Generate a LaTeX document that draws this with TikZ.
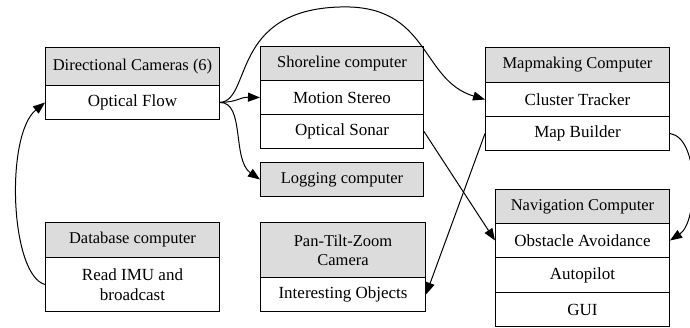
\documentclass[tikz,border=0pt]{standalone}
\usepackage{fontspec}
\setmainfont{Liberation Serif}
\usetikzlibrary{arrows.meta}
\definecolor{hdrgray}{HTML}{DCDCDC}
\tikzset{
  hdr/.style={draw, fill=hdrgray, line width=1pt, anchor=north west, inner sep=0pt, align=center, font=\fontsize{16.5}{19}\selectfont},
  rowbox/.style={draw, fill=white, line width=1pt, anchor=north west, inner sep=0pt, align=center, font=\fontsize{17}{20}\selectfont},
  arr/.style={-{Triangle[length=12pt,width=9pt]}, line width=1pt}
}
\begin{document}
\begin{tikzpicture}[x=1pt,y=-1pt]
\useasboundingbox (0,0) rectangle (690,328);
% Directional cameras
\node[hdr, minimum width=174pt, minimum height=38pt] (dc) at (45,47) {Directional Cameras (6)};
\node[rowbox, minimum width=174pt, minimum height=34pt] (of) at (45,85) {Optical Flow};
% Shoreline
\node[hdr, minimum width=163pt, minimum height=34pt] (sc) at (260,46) {Shoreline computer};
\node[rowbox, minimum width=163pt, minimum height=34pt] (ms) at (260,80) {Motion Stereo};
\node[rowbox, minimum width=163pt, minimum height=34pt] (os) at (260,114) {Optical Sonar};
% Logging
\node[hdr, minimum width=163pt, minimum height=34pt] (lc) at (260,162) {Logging computer};
% Mapmaking
\node[hdr, minimum width=184pt, minimum height=35pt] (mc) at (485,47) {Mapmaking Computer};
\node[rowbox, minimum width=184pt, minimum height=34pt] (ct) at (485,82) {Cluster Tracker};
\node[rowbox, minimum width=184pt, minimum height=34pt] (mb) at (485,116) {Map Builder};
% Navigation
\node[hdr, minimum width=174pt, minimum height=34pt] (nc) at (495,189) {Navigation Computer};
\node[rowbox, minimum width=174pt, minimum height=34pt] (oa) at (495,223) {Obstacle Avoidance};
\node[rowbox, minimum width=174pt, minimum height=35pt] (ap) at (495,257) {Autopilot};
\node[rowbox, minimum width=174pt, minimum height=34pt] (gui) at (495,292) {GUI};
% Database
\node[hdr, minimum width=174pt, minimum height=35pt] (db) at (45,222) {Database computer};
\node[rowbox, minimum width=174pt, minimum height=54pt] (ri) at (45,257) {Read IMU and\\broadcast};
% PTZ
\node[hdr, minimum width=165pt, minimum height=55pt] (ptz) at (260,222) {Pan-Tilt-Zoom\\Camera};
\node[rowbox, minimum width=165pt, minimum height=34pt] (io) at (260,277) {Interesting Objects};
% connectors
\coordinate (top) at (340,7);
\draw[arr] (of.east) .. controls (238,102) and (240,97) .. (ms.west);
\draw[arr] (of.east) .. controls (245,102) and (232,160) .. (lc.west);
\draw[arr] (of.east) .. controls (252,100) and (230,10) .. (top) .. controls (430,4) and (420,80) .. (ct.west);
\draw[arr] (ri.west) .. controls (10,275) and (5,135) .. (of.west);
\draw[arr] (os.east) -- (oa.west);
\draw[arr] (mb.west) -- (io.east);
\draw[arr] (mb.east) .. controls (700,138) and (698,222) .. (oa.east);
\end{tikzpicture}
\end{document}
